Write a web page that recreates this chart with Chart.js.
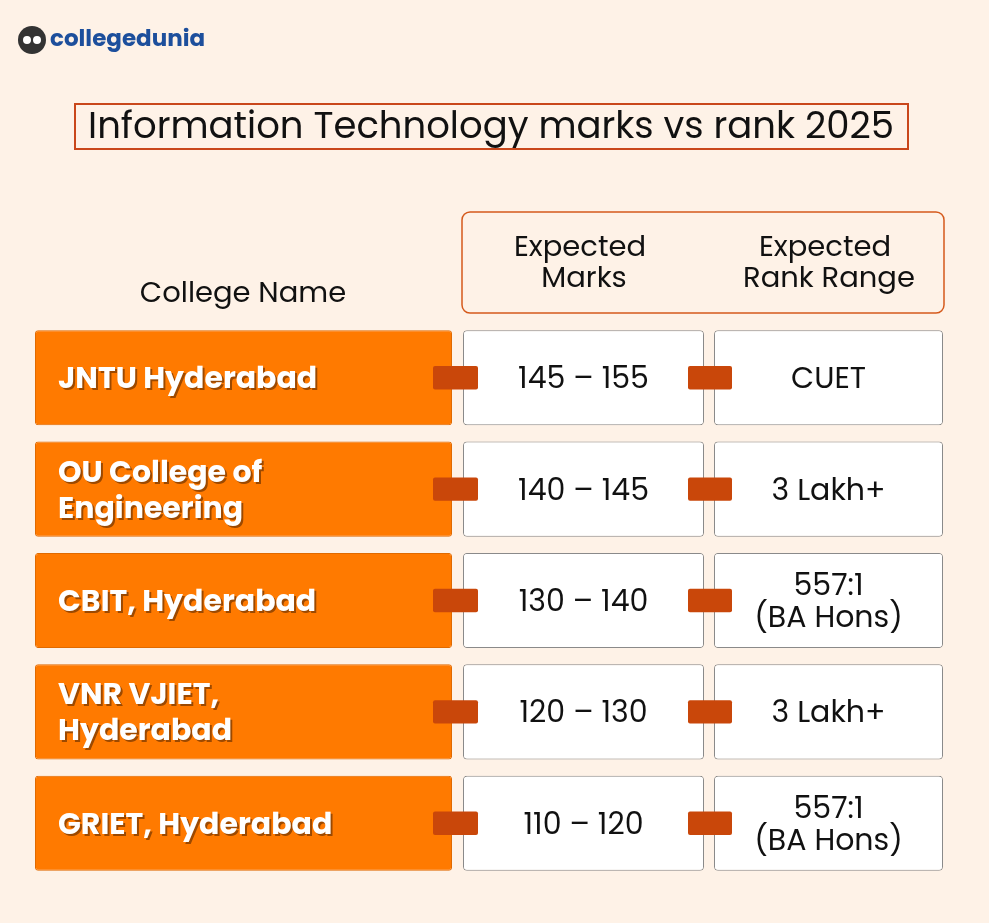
<!DOCTYPE html>
<html><head><meta charset="utf-8">
<script src="https://cdn.jsdelivr.net/npm/chart.js@4"></script>
<style>html,body{margin:0;padding:0;background:#fef2e7}canvas{display:block}</style>
</head><body>
<canvas id="c" width="989" height="923"></canvas>
<script>
const colleges = [["JNTU Hyderabad"],["OU College of","Engineering"],["CBIT, Hyderabad"],["VNR VJIET,","Hyderabad"],["GRIET, Hyderabad"]];
const marksLow = [145,140,130,120,110];
const marksHigh = [155,145,140,130,120];
const ranks = [["CUET"],["3 Lakh+"],["557:1","(BA Hons)"],["3 Lakh+"],["557:1","(BA Hons)"]];
const title = "Information Technology marks vs rank 2025";
const headers = [["Expected","Marks"],["Expected","Rank Range"]];

const FONT = "Poppins, 'Open Sans', Inter, sans-serif";
const n = colleges.length;
const span = (a,b)=>Array.from({length:n},()=>[a,b]);

const deco = {
  id:'deco',
  beforeDatasetsDraw(chart){
    const c = chart.ctx;
    c.save();
    c.fillStyle='#333'; c.beginPath(); c.arc(32,40,14,0,Math.PI*2); c.fill();
    c.fillStyle='#fff'; c.beginPath(); c.arc(27,40,4,0,Math.PI*2); c.arc(37,40,4,0,Math.PI*2); c.fill();
    c.fillStyle='#1d4f9c'; c.font="bold 23px "+FONT; c.textBaseline='middle'; c.textAlign='left';
    c.fillText('collegedunia',50,40);
    c.strokeStyle='#c9471b'; c.lineWidth=2; c.strokeRect(75,104,833,45);
    c.fillStyle='#111'; c.font="37px "+FONT; c.textAlign='center';
    c.fillText(title,491,129);
    c.strokeStyle='#d55a1c'; c.lineWidth=1.5;
    c.beginPath(); c.roundRect(462,212,482,101,8); c.stroke();
    c.font="29px "+FONT; c.fillStyle='#111';
    c.fillText(headers[0][0],580,249); c.fillText(headers[0][1],584,280);
    c.fillText(headers[1][0],825,249); c.fillText(headers[1][1],829,280);
    c.fillText('College Name',243,295);
    c.restore();
  },
  afterDatasetsDraw(chart){
    const c = chart.ctx; c.save(); c.textBaseline='middle';
    const m0 = chart.getDatasetMeta(0).data, m1 = chart.getDatasetMeta(1).data, m2 = chart.getDatasetMeta(2).data;
    const cx = e => (e.x + e.base)/2;
    for(let i=0;i<n;i++){
      c.font="bold 30px "+FONT; c.textAlign='left';
      const L = colleges[i], y0 = m0[i].y + 3 - (L.length-1)*18;
      L.forEach((t,k)=>{
        c.fillStyle='rgba(90,40,0,0.6)'; c.fillText(t,60,y0+k*36+2);
        c.fillStyle='#fff'; c.fillText(t,58,y0+k*36);
      });
      c.fillStyle='#111'; c.font="30px "+FONT; c.textAlign='center';
      c.fillText(marksLow[i]+' – '+marksHigh[i], cx(m1[i]), m1[i].y+3);
      const R = ranks[i], y1 = m2[i].y+3-(R.length-1)*16;
      R.forEach((t,k)=>c.fillText(t, cx(m2[i]), y1+k*32));
    }
    c.restore();
  }
};

new Chart(document.getElementById('c'),{
  type:'bar',
  data:{
    labels: colleges.map(l=>l.join(' ')),
    datasets:[
      {data:span(35,452), backgroundColor:'#ff7a00', borderColor:'#e06a00', borderWidth:1, borderRadius:3, borderSkipped:false, order:2},
      {data:span(463,704), backgroundColor:'#ffffff', borderColor:'#8a8a8a', borderWidth:1, borderRadius:4, borderSkipped:false, order:2},
      {data:span(714,943), backgroundColor:'#ffffff', borderColor:'#8a8a8a', borderWidth:1, borderRadius:4, borderSkipped:false, order:2},
      {data:span(433,478), backgroundColor:'#c9470a', borderRadius:2, borderSkipped:false, barPercentage:0.21, order:0},
      {data:span(688,732), backgroundColor:'#c9470a', borderRadius:2, borderSkipped:false, barPercentage:0.21, order:0}
    ]
  },
  options:{
    indexAxis:'y', responsive:false, animation:false,
    layout:{padding:{top:322,bottom:44,left:0,right:0}},
    datasets:{bar:{grouped:false, barPercentage:0.854, categoryPercentage:1}},
    scales:{
      x:{type:'linear',min:0,max:989,display:false},
      y:{display:false}
    },
    plugins:{legend:{display:false},tooltip:{enabled:false}}
  },
  plugins:[deco]
});
</script>
</body></html>
